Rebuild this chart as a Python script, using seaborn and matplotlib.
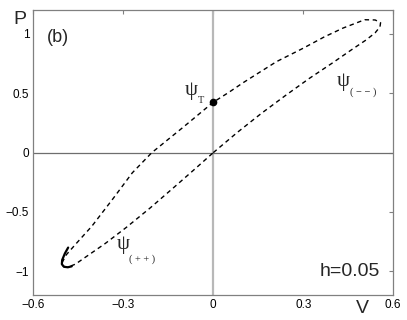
import numpy as np
import pandas as pd
import matplotlib
matplotlib.use("Agg")
import matplotlib.pyplot as plt
import seaborn as sns

# --- data (V, P) along the loop ---
loop_v = [0.000, 0.080, 0.160, 0.240, 0.320, 0.400, 0.460, 0.510, 0.540, 0.556,
          0.558, 0.540, 0.505, 0.433, 0.370, 0.300, 0.211, 0.150, 0.100, 0.050,
          0.000, -0.100, -0.205, -0.270, -0.335, -0.405, -0.455, -0.490, -0.505,
          -0.500, -0.485, -0.460, -0.420, -0.360, -0.290, -0.210, -0.130, -0.060,
          0.000]
loop_p = [0.000, 0.170, 0.330, 0.480, 0.625, 0.760, 0.865, 0.950, 1.010, 1.060,
          1.095, 1.118, 1.120, 1.050, 0.975, 0.880, 0.767, 0.670, 0.590, 0.505,
          0.425, 0.215, 0.000, -0.170, -0.390, -0.620, -0.760, -0.860, -0.930,
          -0.958, -0.965, -0.940, -0.870, -0.765, -0.630, -0.465, -0.290, -0.135,
          0.000]

# thick slow part of the trajectory at the lower-left tip
tip_v = [-0.484, -0.495, -0.504, -0.505, -0.498, -0.485, -0.472]
tip_p = [-0.800, -0.850, -0.905, -0.940, -0.962, -0.966, -0.958]

psi_t = (0.0, 0.425)

x_ticks = [-0.6, -0.3, 0, 0.3, 0.6]
y_ticks = [-1, -0.5, 0, 0.5, 1]
x_tick_labels = ["\u22120.6", "\u22120.3", "0", "0.3", "0.6"]
y_tick_labels = ["\u22121", "\u22120.5", "0", "0.5", "1"]

df = pd.DataFrame({"V": loop_v, "P": loop_p})
df_tip = pd.DataFrame({"V": tip_v, "P": tip_p})

sns.set_theme(style="white")
plt.rcParams["font.family"] = ["Liberation Sans", "DejaVu Sans"]

fig = plt.figure(figsize=(4.07, 3.2), dpi=100)
ax = fig.add_axes([0.082, 0.078, 0.884, 0.890])

# axes cross lines
ax.axvline(0, color="#b8b8b8", lw=1.6, zorder=1)
ax.axhline(0, color="#6e6e6e", lw=0.9, zorder=1)

sns.lineplot(data=df, x="V", y="P", sort=False, estimator=None, ax=ax,
             color="black", lw=1.0, zorder=3)
ax.lines[-1].set_dashes((3.2, 2.6))
sns.lineplot(data=df_tip, x="V", y="P", sort=False, estimator=None, ax=ax,
             color="black", lw=1.6, zorder=3)
ax.plot([psi_t[0]], [psi_t[1]], "o", color="black", ms=4.5, zorder=4)

ax.set_xlim(-0.6, 0.6)
ax.set_ylim(-1.2, 1.2)
ax.set_xticks(x_ticks)
ax.set_yticks(y_ticks)
ax.set_xticklabels(x_tick_labels)
ax.set_yticklabels(y_tick_labels)
ax.tick_params(direction="in", length=3, width=0.8, color="#808080",
               labelsize=8.5, top=True, right=True, pad=3, labelcolor="black")
ax.set_xlabel("")
ax.set_ylabel("")
for s in ax.spines.values():
    s.set_color("#808080")
    s.set_linewidth(0.9)

# labels
fig.text(0.032, 0.9375, "P", fontsize=14, ha="left", va="center")
fig.text(0.89, 0.035, "V", fontsize=14, ha="center", va="center")
ax.text(0.038, 0.904, "(b)", transform=ax.transAxes, fontsize=13, ha="left", va="center")
ax.text(0.963, 0.081, "h=0.05", transform=ax.transAxes, fontsize=14, ha="right", va="center")

serif = ["Liberation Serif", "DejaVu Serif"]
# psi labels: glyph + small subscript
ax.text(-0.096, 0.52, "\u03c8", fontsize=15, family=serif, ha="left", va="center")
ax.text(-0.052, 0.440, "T", fontsize=7.5, family=serif, ha="left", va="center")
ax.text(0.411, 0.60, "\u03c8", fontsize=15, family=serif, ha="left", va="center")
ax.text(0.455, 0.51, "( \u2212 \u2212 )", fontsize=7.5, family=serif, ha="left", va="center")
ax.text(-0.323, -0.773, "\u03c8", fontsize=15, family=serif, ha="left", va="center")
ax.text(-0.281, -0.896, "( + + )", fontsize=7.5, family=serif, ha="left", va="center")

fig.savefig("out.png", dpi=100)
